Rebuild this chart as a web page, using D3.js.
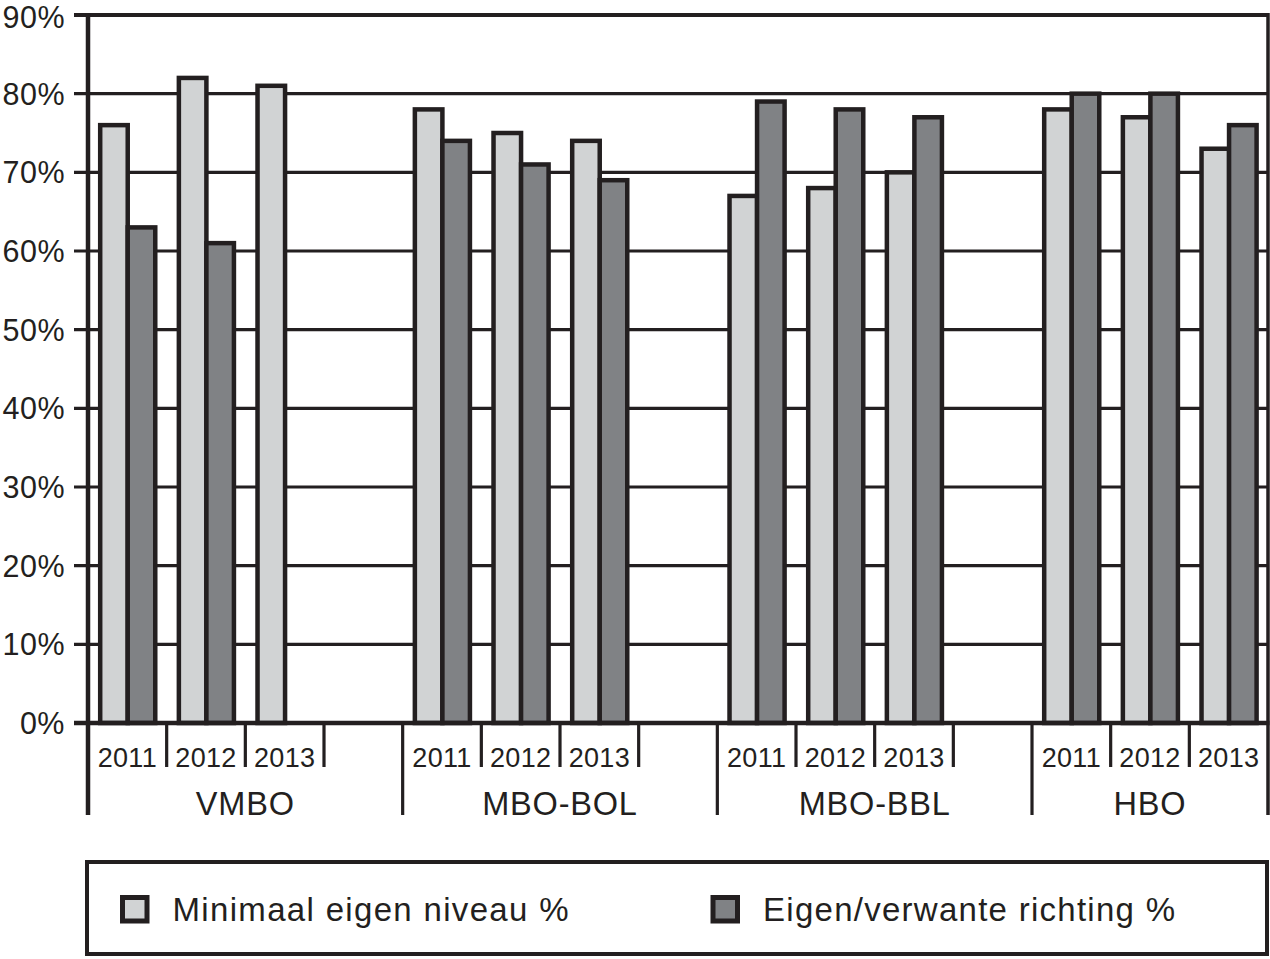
<!DOCTYPE html>
<html>
<head>
<meta charset="utf-8">
<script src="https://cdn.jsdelivr.net/npm/d3@7"></script>
<style>
  html, body { margin: 0; padding: 0; background: #fff; }
  svg { display: block; }
  text { font-family: "Liberation Sans", Arial, sans-serif; fill: #231f20; }
</style>
</head>
<body>
<script>
// ---- data ----
const groups = ["VMBO", "MBO-BOL", "MBO-BBL", "HBO"];
const years = ["2011", "2012", "2013"];
const seriesNames = ["Minimaal eigen niveau %", "Eigen/verwante richting %"];
const minimaalEigenNiveau = [76, 82, 81, 78, 75, 74, 67, 68, 70, 78, 77, 73];
const eigenVerwanteRichting = [63, 61, null, 74, 71, 69, 79, 78, 77, 80, 80, 76];
const yTicks = [0, 10, 20, 30, 40, 50, 60, 70, 80, 90];

(function () {
const W = 1270, H = 959;
const ink = "#231f20";
const colors = ["#d1d3d4", "#808285"];

const svg = d3.select("body").append("svg").attr("width", W).attr("height", H);

const pL = 88, pR = 1268, pT = 15, pB = 723;

// slots: each group has 3 years plus an empty slot, except the last group
const slots = [];
groups.forEach((g, gi) => {
  years.forEach((yr, yi) => slots.push({ key: g + "|" + yr, group: g, year: yr, idx: gi * 3 + yi }));
  if (gi < groups.length - 1) slots.push({ key: g + "|gap", group: g, year: null, idx: -1 });
});

const x0 = d3.scaleBand().domain(slots.map(s => s.key)).range([pL, pR]).padding(0);
const x1 = d3.scaleBand().domain([0, 1]).range([x0.bandwidth() * 0.155, x0.bandwidth() * 0.855]).padding(0);
const y = d3.scaleLinear().domain([0, 90]).range([pB, pT]);

// gridlines + ticks
svg.append("g").selectAll("line").data(yTicks).join("line")
  .attr("x1", pL - 14).attr("x2", pR)
  .attr("y1", d => y(d)).attr("y2", d => y(d))
  .attr("stroke", ink).attr("stroke-width", d => d === 90 ? 4.2 : 3.2);

// y labels
svg.append("g").selectAll("text").data(yTicks).join("text")
  .attr("x", 65).attr("y", d => Math.max(y(d), 17.5))
  .attr("dy", "0.36em")
  .attr("text-anchor", "end")
  .style("font-size", "30.5px")
  .style("letter-spacing", "0.5px")
  .text(d => d + "%");

// bars
const barData = [];
slots.filter(s => s.year).forEach(s => {
  [minimaalEigenNiveau, eigenVerwanteRichting].forEach((arr, si) => {
    const v = arr[s.idx];
    if (v != null) barData.push({ key: s.key, si, v });
  });
});
svg.append("g").selectAll("rect").data(barData).join("rect")
  .attr("x", d => x0(d.key) + x1(d.si))
  .attr("width", x1.bandwidth())
  .attr("y", d => y(d.v))
  .attr("height", d => y(0) - y(d.v))
  .attr("fill", d => colors[d.si])
  .attr("stroke", ink).attr("stroke-width", 4.5);

// axes lines
svg.append("line").attr("x1", pL).attr("x2", pL).attr("y1", pT - 2).attr("y2", 815)
  .attr("stroke", ink).attr("stroke-width", 4.5);
svg.append("line").attr("x1", pR).attr("x2", pR).attr("y1", pT - 2).attr("y2", 815)
  .attr("stroke", ink).attr("stroke-width", 3.5);
svg.append("line").attr("x1", pL - 14).attr("x2", pR + 1.5).attr("y1", pB).attr("y2", pB)
  .attr("stroke", ink).attr("stroke-width", 4.5);

// category ticks below axis
const boundaries = slots.map((s, i) => ({
  x: x0(s.key),
  long: i === 0 || s.year === "2011"
}));
svg.append("g").selectAll("line").data(boundaries.filter(b => b.x > pL)).join("line")
  .attr("x1", d => d.x).attr("x2", d => d.x)
  .attr("y1", pB).attr("y2", d => d.long ? 815 : 767)
  .attr("stroke", ink).attr("stroke-width", 3.2);

// year labels
svg.append("g").selectAll("text").data(slots.filter(s => s.year)).join("text")
  .attr("x", d => x0(d.key) + x0.bandwidth() / 2)
  .attr("y", 767)
  .attr("text-anchor", "middle")
  .style("font-size", "27px")
  .style("letter-spacing", "0.3px")
  .text(d => d.year);

// group labels: centred over the whole group span (incl. empty slot)
const groupSpan = g => {
  const ks = slots.filter(s => s.group === g).map(s => s.key);
  return [x0(ks[0]), x0(ks[ks.length - 1]) + x0.bandwidth()];
};
svg.append("g").selectAll("text").data(groups).join("text")
  .attr("x", g => d3.mean(groupSpan(g)))
  .attr("y", 815)
  .attr("text-anchor", "middle")
  .style("font-size", "32.5px")
  .style("letter-spacing", "0.8px")
  .text(g => g);

// legend
const lg = svg.append("g");
lg.append("rect").attr("x", 87).attr("y", 862).attr("width", 1180).attr("height", 92)
  .attr("fill", "none").attr("stroke", ink).attr("stroke-width", 4);
const legX = [122.5, 713];
const legLen = [396, 412];
const legItems = lg.selectAll("g.item").data(seriesNames).join("g").attr("class", "item")
  .attr("transform", (d, i) => `translate(${legX[i]},897.5)`);
legItems.append("rect").attr("width", 24.5).attr("height", 23.5)
  .attr("fill", (d, i) => colors[i]).attr("stroke", ink).attr("stroke-width", 5);
legItems.append("text").attr("x", 50).attr("y", 23.2)
  .style("font-size", "33px")
  .attr("textLength", (d, i) => legLen[i])
  .attr("lengthAdjust", "spacing")
  .text(d => d);
})();
</script>
</body>
</html>
